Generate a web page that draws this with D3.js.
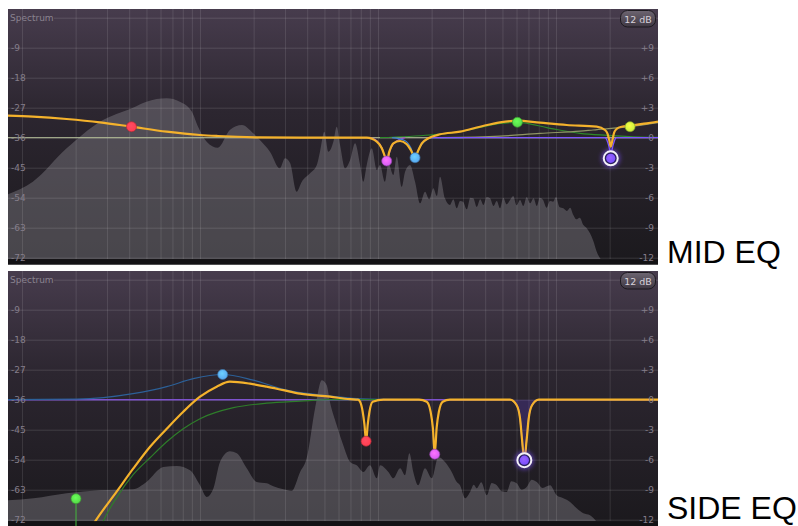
<!DOCTYPE html>
<html>
<head>
<meta charset="utf-8">
<title>Mid / Side EQ</title>
<script src="https://cdn.jsdelivr.net/npm/d3@7"></script>
<style>
  body { margin: 0; background: #fff; }
  svg { display: block; }
</style>
</head>
<body>
<script>
// Frequency grid (Hz) and the two label scales
var freqTicks = [10, 20, 30, 40, 50, 60, 70, 80, 90, 100, 200, 300, 400, 500, 600, 700, 800, 900,
                 1000, 2000, 3000, 4000, 5000, 6000, 7000, 8000, 9000, 10000, 20000];
var levelTicks = [0, -9, -18, -27, -36, -45, -54, -63, -72];
var gainTicks = [9, 6, 3, 0, -3, -6, -9, -12];

// MID channel spectrum, [Hz, dB]
var midSpectrum = [[8.3,-53],[11.5,-49.2],[17.8,-39.2],[27.4,-31.2],[42,-27],[50,-25.2],[65,-24.2],
  [77,-25.2],[90,-28.2],[97.5,-32.7],[109,-37.2],[126,-39],[147,-33.7],[172,-32.2],[199,-34.7],
  [217,-36.7],[247,-40.2],[281,-45.2],[300,-42.2],[321,-43.7],[349,-52.2],[373,-49.2],[415,-46.7],
  [453,-44.2],[472,-40.2],[499,-34.2],[526,-40.2],[561,-37.2],[586,-32.7],[612,-38.2],[653,-45.2],
  [697,-42.7],[743,-37.7],[793,-44.2],[827,-49.2],[864,-44.2],[922,-39.2],[984,-45.7],[1026,-44.2],
  [1094,-49.2],[1143,-43.7],[1219,-47.2],[1274,-41.7],[1359,-50.7],[1419,-46.2],[1513,-44.2],
  [1614,-49.2],[1722,-55.7],[1837,-52.2],[1940,-54.5],[2046,-51.2],[2140,-53.5],[2230,-47.7],
  [2378,-54.2],[2536,-56.2],[2650,-54.5],[2767,-57.2],[2889,-55],[3004,-55.2],[3150,-57.5],
  [3300,-54],[3430,-54.2],[3587,-56.8],[3750,-54.5],[3907,-56.2],[4083,-53.8],[4260,-54.2],
  [4450,-56.5],[4646,-55],[4846,-57.2],[5050,-54],[5280,-56],[5517,-54.7],[5750,-53.5],[6000,-56.3],
  [6281,-54.7],[6550,-56.5],[6840,-53.8],[7150,-55.7],[7480,-54.2],[7797,-56.5],[8100,-54],
  [8457,-54.7],[8850,-57],[9250,-55],[9620,-55.2],[10000,-53.8],[10450,-56.8],[10990,-57.2],
  [11500,-58],[12000,-57],[12510,-59.2],[13000,-60.5],[13600,-60],[14240,-62.2],[14800,-63],
  [15520,-64.7],[16200,-67],[16930,-70.2],[18070,-73],[20000,-78],[40000,-80]];

// SIDE channel spectrum, [Hz, dB]
var sideSpectrum = [[8.3,-66.2],[11.6,-65.6],[17.8,-64.1],[27.4,-63.2],[42.1,-62.9],[50,-60.7],
  [62.2,-56.2],[74,-55.9],[87.9,-57.2],[100,-61.7],[109,-65.2],[119,-62.6],[129.5,-54.7],[147,-51.5],
  [161,-52.1],[183,-56.6],[208,-60.7],[237,-61.1],[258,-62],[294,-62.9],[327,-63.4],[365,-57.7],
  [397,-53.6],[443,-38.6],[483,-30.2],[515,-31.7],[537,-36.7],[586,-43.7],[638,-49.7],[697,-54.7],
  [759,-55.7],[827,-57.7],[901,-55.7],[984,-59.6],[1026,-55.7],[1143,-57.7],[1219,-59.6],
  [1330,-56.6],[1419,-58.7],[1500,-52.1],[1578,-57.7],[1683,-61.7],[1837,-56.6],[2004,-59.6],
  [2183,-53.2],[2378,-54.7],[2594,-57.7],[2750,-60.5],[2889,-61.7],[3083,-65.6],[3289,-63.7],
  [3450,-61.5],[3587,-62.6],[3800,-60.8],[4083,-64.7],[4350,-61],[4646,-61.7],[4950,-63.5],
  [5285,-63.7],[5600,-60.5],[6012,-61.1],[6400,-63],[6839,-62.2],[7300,-60],[7797,-60.7],
  [8400,-62.5],[9250,-61.7],[10090,-64.7],[10990,-65.6],[11990,-66.7],[13060,-68.6],[14240,-70.1],
  [15520,-70.7],[16930,-72.7],[19000,-78],[40000,-80]];

// MID EQ curves, [Hz, gain dB]
var midTotal = [[8.3,2.2],[11.5,2.1],[17.8,1.87],[27.4,1.54],[41.2,1.1],[65,0.6],[100,0.27],[126,0.17],
  [217,0.03],[365,0],[864,0],[984,-0.4],[1050,-1.06],[1094,-1.9],[1119,-2.3],[1157,-1.4],[1219,-0.56],
  [1330,-0.33],[1450,-0.66],[1528,-1.23],[1614,-2],[1671,-1.4],[1762,-0.56],[1918,-0.06],[2230,0.34],
  [2889,0.6],[3741,1.1],[4846,1.54],[6067,1.7],[8128,1.5],[11480,1.27],[16930,1.1],[18840,0.77],
  [19460,0.4],[20000,-0.4],[20290,-0.9],[20650,-0.4],[21200,0.5],[21880,0.87],[23380,1.1],
  [26060,1.2],[32300,1.44],[37400,1.6]];
var midGreen = [[1026,0],[1959,0.27],[2889,0.6],[3741,1.02],[4846,1.42],[6067,1.54],[9250,0.94],
  [13650,0.44],[19360,0.24],[29650,0.07],[37400,0.03]];
var midLime = [[2230,0],[4846,0.15],[8128,0.44],[13650,0.65],[16140,0.77],[26060,1.1],[37400,1.5]];
var midBlue = [[1200,0],[1419,-0.3],[1528,-1],[1614,-2],[1706,-1],[1837,-0.3],[2010,0],[3000,0]];
var midMagenta = [[901,0],[984,-0.3],[1052,-1],[1119,-2.33],[1183,-1],[1279,-0.3],[1419,0]];
var midViolet = [[1900,0],[18840,0],[19460,-0.4],[20000,-1.2],[20290,-2.06],[20650,-1.2],[21200,-0.4],
  [21880,0],[37400,0]];

// SIDE EQ curves, [Hz, gain dB]
var sideTotal = [[24.1,-13],[25.7,-12.2],[34,-9.2],[42.1,-6.9],[52.4,-4.7],[65,-2.9],[80.5,-1.2],
  [100,0.3],[124,1.3],[147,1.8],[191,1.6],[237,1.3],[294,0.95],[365,0.6],[537,0.3],[697,0.05],
  [772,0],[793,-0.2],[820,-1.2],[839,-2.5],[857,-4.15],[875,-2.5],[895,-1.2],[934,-0.2],[1072,0],
  [1700,0],[1878,-0.2],[1974,-1.2],[2032,-2.8],[2083,-5.45],[2135,-2.8],[2197,-1.2],[2309,-0.2],
  [2536,0],[5517,0],[6012,-0.55],[6281,-1.9],[6442,-4],[6637,-6.05],[6839,-4],[7019,-1.9],
  [7331,-0.55],[7998,0],[37400,0]];
var sideBlue = [[8.3,0],[20.3,0.05],[42,0.6],[65,1.3],[91.7,2.1],[134,2.52],[199,1.95],[307,0.95],
  [515,0.4],[901,0.05],[1722,0]];
var sideHighpass = [[26,-14],[28.5,-12.2],[34,-9.8],[42.1,-7.5],[52.4,-5.8],[65,-4.2],[80.5,-2.9],
  [100,-1.9],[154,-0.8],[237,-0.35],[365,-0.15],[537,0],[1000,0]];
var sideViolet = [[8.3,0],[5517,0],[6012,-0.55],[6281,-1.9],[6442,-4],[6637,-6.05],[6839,-4],
  [7019,-1.9],[7331,-0.55],[7998,0],[37400,0]];

// band nodes
var midNodeBand = ["red", "magenta", "blue", "green", "violet", "lime"];
var midNodeFreq = [41.2, 1119, 1614, 6067, 20290, 26060];
var midNodeGain = [1.1, -2.33, -2, 1.54, -2.06, 1.1];
var sideNodeBand = ["green", "blue", "red", "magenta", "violet"];
var sideNodeFreq = [20.1, 134, 857, 2083, 6637];
var sideNodeGain = [-9.9, 2.52, -4.15, -5.45, -6.05];

var bandColor = { red: "#ff3d50", magenta: "#d35cf2", blue: "#58a8f0", green: "#55d848",
                  violet: "#7b4fff", lime: "#c8ef3a" };

var svg = d3.select("body").append("svg").attr("width", 798).attr("height", 526);
var defs = svg.append("defs");

// panel background
var bg = defs.append("linearGradient").attr("id", "panelBg")
  .attr("x1", 0).attr("y1", 0).attr("x2", 0).attr("y2", 1);
bg.append("stop").attr("offset", "0%").attr("stop-color", "#473c4d");
bg.append("stop").attr("offset", "40%").attr("stop-color", "#2c2630");
bg.append("stop").attr("offset", "100%").attr("stop-color", "#1b191d");

var btn = defs.append("linearGradient").attr("id", "btnBg")
  .attr("x1", 0).attr("y1", 0).attr("x2", 0).attr("y2", 1);
btn.append("stop").attr("offset", "0%").attr("stop-color", "#6d6571");
btn.append("stop").attr("offset", "100%").attr("stop-color", "#3e3742");

defs.append("filter").attr("id", "glow").attr("x", "-100%").attr("y", "-100%")
  .attr("width", "300%").attr("height", "300%")
  .append("feGaussianBlur").attr("stdDeviation", 2.2);

// node gradients
Object.keys(bandColor).forEach(function(k){
  var rg = defs.append("radialGradient").attr("id", "node-" + k)
    .attr("cx", "45%").attr("cy", "40%").attr("r", "60%");
  rg.append("stop").attr("offset", "0%").attr("stop-color", d3.color(bandColor[k]).brighter(0.6));
  rg.append("stop").attr("offset", "100%").attr("stop-color", bandColor[k]);
});

var x = d3.scaleLog().domain([8.34, 37400]).range([8, 658]);
var gridTop = 8.7, gridBottom = 248.7, bandTop = 250.3, panelH = 255.5;
var yLevel = d3.scaleLinear().domain([0, -72]).range([gridTop, gridBottom]);
var yGain = d3.scaleLinear().domain([12, -12]).range([gridTop, gridBottom]);

var curveLine = d3.line().x(function(d){ return x(d[0]); }).y(function(d){ return yGain(d[1]); })
  .curve(d3.curveMonotoneX);
var notchArea = d3.area().x(function(d){ return x(d[0]); }).y0(yGain(0))
  .y1(function(d){ return yGain(d[1]); }).curve(d3.curveMonotoneX);

function drawPanel(id, top, spectrum, lines, title, titleY){
  var g = svg.append("g").attr("transform", "translate(0," + top + ")");
  g.append("rect").attr("x", 8).attr("y", 0).attr("width", 650).attr("height", panelH)
    .attr("fill", "url(#panelBg)");

  defs.append("clipPath").attr("id", "clip-" + id)
    .append("rect").attr("x", 8).attr("y", 0).attr("width", 650).attr("height", bandTop);
  var plot = g.append("g").attr("clip-path", "url(#clip-" + id + ")");

  // spectrum analyser
  plot.append("path").datum(spectrum)
    .attr("d", d3.area().x(function(d){ return x(d[0]); }).y0(bandTop)
      .y1(function(d){ return yLevel(d[1]); }).curve(d3.curveMonotoneX))
    .attr("fill", "#8d8a91").attr("fill-opacity", 0.4);

  // grid
  var vx = plot.append("g").attr("transform", "translate(0," + bandTop + ")")
    .call(d3.axisBottom(x).tickValues(freqTicks).tickSize(-bandTop).tickFormat(""));
  vx.select(".domain").remove();
  vx.selectAll("line").attr("stroke", "#fff").attr("stroke-opacity", 0.11);

  var hy = plot.append("g").attr("transform", "translate(8,0)")
    .call(d3.axisRight(yLevel).tickValues(levelTicks).tickSize(650).tickFormat(""));
  hy.select(".domain").remove();
  hy.selectAll("line").attr("stroke", "#fff").attr("stroke-opacity", 0.13);
  hy.selectAll(".tick").filter(function(d){ return d === 0; }).select("line").attr("x1", 46);

  g.append("rect").attr("x", 8).attr("y", bandTop).attr("width", 650)
    .attr("height", panelH - bandTop).attr("fill", "#131215");

  // labels
  var left = g.append("g").attr("transform", "translate(8,0)")
    .call(d3.axisRight(yLevel).tickValues(levelTicks.slice(1)).tickSize(0).tickPadding(3)
      .tickFormat(function(d){ return String(d); }));
  left.select(".domain").remove();
  left.attr("font-family", "DejaVu Sans").attr("font-size", 9);
  left.selectAll("text").attr("fill", "#857e8b");

  var right = g.append("g").attr("transform", "translate(656,0)")
    .call(d3.axisLeft(yGain).tickValues(gainTicks).tickSize(0).tickPadding(2)
      .tickFormat(function(d){ return d > 0 ? "+" + d : String(d); }));
  right.select(".domain").remove();
  right.attr("font-family", "DejaVu Sans").attr("font-size", 9);
  right.selectAll("text").attr("fill", "#857e8b");

  g.append("text").attr("x", 10).attr("y", yLevel(0)).attr("dy", "0.32em")
    .attr("font-family", "DejaVu Sans").attr("font-size", 9).attr("fill", "#8a8390")
    .text("Spectrum");

  // EQ curves
  lines.forEach(function(l){
    if (l.fill) {
      plot.append("path").datum(l.data).attr("d", notchArea)
        .attr("fill", l.fill).attr("fill-opacity", 0.2);
    }
    plot.append("path").datum(l.data).attr("d", curveLine)
      .attr("fill", "none").attr("stroke", l.color).attr("stroke-width", l.width)
      .attr("stroke-opacity", l.opacity || 1);
  });

  // 12 dB button
  g.append("rect").attr("x", 620.5).attr("y", 1.5).attr("width", 35).attr("height", 16.5)
    .attr("rx", 7).attr("fill", "url(#btnBg)").attr("stroke", "#1c191e");
  g.append("text").attr("x", 638).attr("y", 13.5).attr("text-anchor", "middle")
    .attr("font-family", "DejaVu Sans").attr("font-size", 9.5).attr("fill", "#d6d1d9")
    .text("12 dB");

  svg.append("text").attr("x", 667).attr("y", titleY)
    .attr("font-family", "Liberation Sans, Arial, sans-serif").attr("font-size", 32)
    .attr("fill", "#000").text(title);

  return g;
}

function drawNodes(g, freqs, gains, bands, selected){
  freqs.forEach(function(f, i){
    var cx = x(f), cy = yGain(gains[i]), band = bands[i];
    if (band === selected) {
      g.append("circle").attr("cx", cx).attr("cy", cy).attr("r", 9.5)
        .attr("fill", bandColor[band]).attr("fill-opacity", 0.55).attr("filter", "url(#glow)");
      g.append("circle").attr("cx", cx).attr("cy", cy).attr("r", 7)
        .attr("fill", "#2b2060").attr("stroke", "#f3f1f7").attr("stroke-width", 2);
      g.append("circle").attr("cx", cx).attr("cy", cy).attr("r", 4.6)
        .attr("fill", "url(#node-" + band + ")");
    } else {
      g.append("circle").attr("cx", cx).attr("cy", cy).attr("r", 5)
        .attr("fill", "url(#node-" + band + ")")
        .attr("stroke", d3.color(bandColor[band]).darker(1)).attr("stroke-width", 0.7);
    }
  });
}

var midPanel = drawPanel("mid", 9, midSpectrum, [
  { data: [[8.3, 0], [37400, 0]], color: "#b2bc97", width: 1.2, opacity: 0.85 },
  { data: midGreen, color: "#2e8a2b", width: 1.2 },
  { data: midLime, color: "#8f9565", width: 1.2 },
  { data: midMagenta, color: "#a64cc8", width: 1.2 },
  { data: midBlue, color: "#3d80d2", width: 1.2 },
  { data: midViolet, color: "#7d55ff", width: 1.3, fill: "#6d45ff" },
  { data: midTotal, color: "#f4b22c", width: 2.2 }
], "MID EQ", 263);
drawNodes(midPanel, midNodeFreq, midNodeGain, midNodeBand, "violet");

var sidePanel = drawPanel("side", 271, sideSpectrum, [
  { data: sideViolet, color: "#7d52cc", width: 1.5, fill: "#6d45ff" },
  { data: sideBlue, color: "#2c6098", width: 1.2 },
  { data: sideHighpass, color: "#2e7d2a", width: 1.2 },
  { data: sideTotal, color: "#f4b22c", width: 2.2 }
], "SIDE EQ", 519);

// high-pass node stem down to the floor
sidePanel.append("line")
  .attr("x1", x(sideNodeFreq[0])).attr("x2", x(sideNodeFreq[0]))
  .attr("y1", yGain(sideNodeGain[0])).attr("y2", panelH)
  .attr("stroke", "#3e9e3a").attr("stroke-width", 1.2);
drawNodes(sidePanel, sideNodeFreq, sideNodeGain, sideNodeBand, "violet");
</script>
</body>
</html>
